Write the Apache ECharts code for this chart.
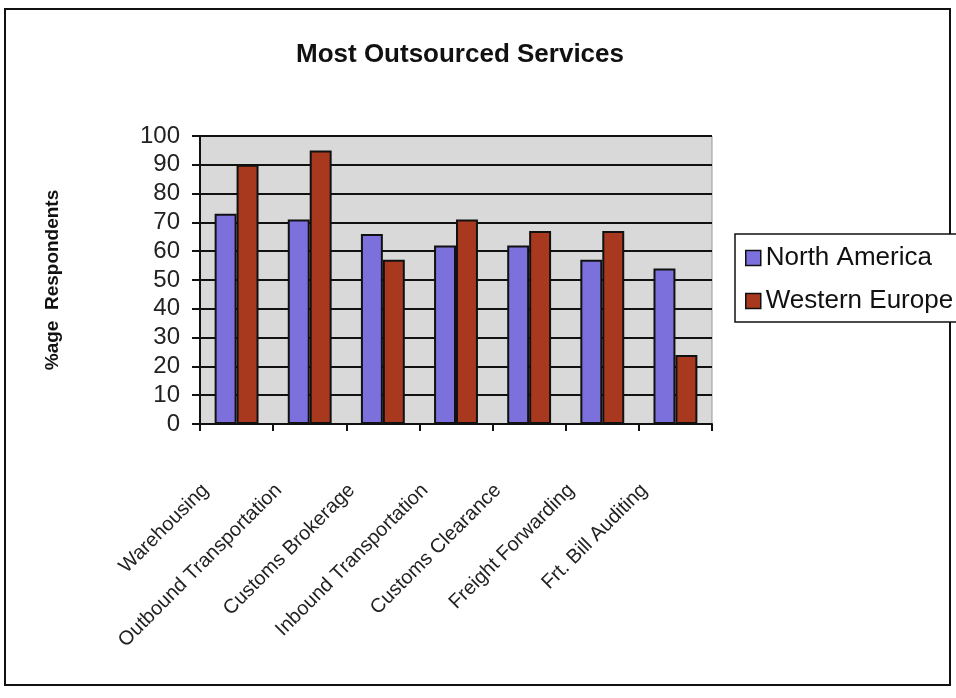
<!DOCTYPE html>
<html>
<head>
<meta charset="utf-8">
<script src="https://cdn.jsdelivr.net/npm/echarts@6/dist/echarts.min.js"></script>
<style>html,body{margin:0;padding:0;background:#fff}#c{width:956px;height:698px}</style>
</head>
<body>
<div id="c"></div>
<script>
const categories = ['Warehousing','Outbound Transportation','Customs Brokerage','Inbound Transportation','Customs Clearance','Freight Forwarding','Frt. Bill Auditing'];
const northAmerica = [73, 71, 66, 62, 62, 57, 54];
const westernEurope = [90, 95, 57, 71, 67, 67, 24];
const yTicks = [0,10,20,30,40,50,60,70,80,90,100];

const chart = echarts.init(document.getElementById('c'));
const font = 'Liberation Sans, Arial, sans-serif';
chart.setOption({
  backgroundColor: '#fff',
  animation: false,
  textStyle: {fontFamily: font},
  title: {
    text: 'Most Outsourced Services',
    left: 291, top: 37,
    textStyle: {fontSize: 26, fontWeight: 'bold', color: '#111', fontFamily: font}
  },
  graphic: [{
    type: 'rect', shape: {x: 5, y: 9, width: 945, height: 676},
    style: {fill: 'none', stroke: '#111', lineWidth: 2}, z: -1
  }],
  legend: {
    orient: 'vertical', left: 735, top: 234, width: 200,
    data: ['North America','Western Europe'],
    backgroundColor: '#fff', borderColor: '#111', borderWidth: 1.5,
    padding: [11, 20, 8, 10], itemGap: 17,
    itemWidth: 15, itemHeight: 15, icon: 'rect',
    itemStyle: {borderColor: '#111', borderWidth: 1.5},
    textStyle: {fontSize: 26, color: '#111', fontFamily: font}
  },
  grid: {
    left: 200, right: 244, top: 136, bottom: 274,
    show: true, backgroundColor: '#d9d9d9', borderColor: '#999', borderWidth: 1
  },
  xAxis: {
    type: 'category', data: categories,
    axisLine: {lineStyle: {color: '#111', width: 2}},
    axisTick: {show: true, length: 7, lineStyle: {color: '#111', width: 2}},
    axisLabel: {rotate: 45, interval: 0, fontSize: 20, color: '#222', margin: 32, padding: [0, 44, 0, 0], fontFamily: font}
  },
  yAxis: {
    type: 'value', min: 0, max: 100, interval: 10,
    name: '%age  Respondents', nameLocation: 'middle', nameGap: 138,
    nameTextStyle: {fontSize: 19, fontWeight: 'bold', color: '#111', fontFamily: font},
    axisLine: {show: true, lineStyle: {color: '#111', width: 2}},
    axisTick: {show: true, length: 8, lineStyle: {color: '#111', width: 2}},
    axisLabel: {fontSize: 24, color: '#222', margin: 20, fontFamily: font},
    splitLine: {lineStyle: {color: '#111', width: 2}}
  },
  series: [
    {name: 'North America', type: 'bar', data: northAmerica, barGap: '0%', barCategoryGap: '40%',
     itemStyle: {color: '#7b70dc', borderColor: '#111', borderWidth: 2}},
    {name: 'Western Europe', type: 'bar', data: westernEurope,
     itemStyle: {color: '#a8391f', borderColor: '#111', borderWidth: 2}}
  ]
});
</script>
</body>
</html>
